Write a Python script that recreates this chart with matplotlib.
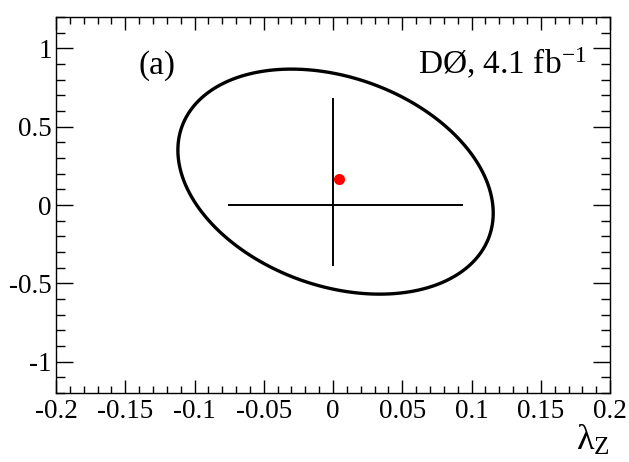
import numpy as np
import matplotlib
matplotlib.use("Agg")
import matplotlib.pyplot as plt
from matplotlib.patches import Polygon
from matplotlib.ticker import MultipleLocator, FuncFormatter

plt.rcParams['font.family'] = ['Liberation Serif', 'DejaVu Serif']
plt.rcParams['mathtext.fontset'] = 'custom'
plt.rcParams['mathtext.rm'] = 'Liberation Serif'
plt.rcParams['mathtext.it'] = 'Liberation Serif:italic'

# 95% C.L. contour in the (lambda_Z, delta kappa_Z) plane
ellipse_center = [0.0018, 0.150]
ellipse_half_width = [0.1138, 0.718]
ellipse_corr = -0.28

# best fit point
best_fit = [0.0043, 0.166]

# one-dimensional limits at the SM point
lambda_limits = [-0.075, 0.093]
kappa_limits = [-0.38, 0.68]

x_range = [-0.2, 0.2]
y_range = [-1.2, 1.2]


def contour_points(center, half, rho, n=400):
    """
    Returns the contour of a correlated 2D ellipse.
    """
    t = np.linspace(0, 2 * np.pi, n, endpoint=False)
    x = center[0] + half[0] * np.cos(t)
    y = center[1] + half[1] * (rho * np.cos(t) + np.sqrt(1 - rho ** 2) * np.sin(t))
    return np.column_stack([x, y])


def tick_fmt(v, pos):
    """
    ROOT style tick labels: no trailing zeros, plain hyphen for minus.
    """
    s = ('%.2f' % v).rstrip('0').rstrip('.')
    if s in ('-0', ''):
        s = '0'
    return s


fig = plt.figure(figsize=(6.29, 4.62), dpi=100)
ax = fig.add_axes([0.089, 0.149, 0.881, 0.814])

pts = contour_points(ellipse_center, ellipse_half_width, ellipse_corr)
ax.add_patch(Polygon(pts, closed=True, fill=False, edgecolor='black',
                     lw=2.4, joinstyle='round'))
ax.plot(lambda_limits, [0, 0], color='black', lw=1.4)
ax.plot([0, 0], kappa_limits, color='black', lw=1.4)
ax.plot(best_fit[0], best_fit[1], 'o', color='#ff0000', ms=8, mec='none')

ax.set_xlim(x_range)
ax.set_ylim(y_range)

ax.xaxis.set_major_locator(MultipleLocator(0.05))
ax.xaxis.set_minor_locator(MultipleLocator(0.01))
ax.yaxis.set_major_locator(MultipleLocator(0.5))
ax.yaxis.set_minor_locator(MultipleLocator(0.1))
ax.xaxis.set_major_formatter(FuncFormatter(tick_fmt))
ax.yaxis.set_major_formatter(FuncFormatter(tick_fmt))

ax.tick_params(which='both', direction='in', top=True, right=True,
               labelsize=19.5, width=1.0)
ax.tick_params(axis='x', which='major', length=9.5, pad=4)
ax.tick_params(axis='x', which='minor', length=4.7)
ax.tick_params(axis='y', which='major', length=12, pad=3)
ax.tick_params(axis='y', which='minor', length=6.2)
for sp in ax.spines.values():
    sp.set_linewidth(1.0)

ax.text(0.183, 0.872, '(a)', transform=ax.transAxes, fontsize=24,
        ha='center', va='center')
ax.text(0.957, 0.876, r'DØ, 4.1 fb$^{\mathrm{-1}}$', transform=ax.transAxes,
        fontsize=24, ha='right', va='center')

fig.text(0.943, 0.045, r'$\mathrm{\lambda}_{\mathrm{Z}}$', fontsize=26,
         ha='center', va='center')
fig.text(0.004, 0.963, r'$\Delta\mathrm{\kappa}_{\mathrm{Z}}$', fontsize=25,
         rotation=90, ha='right', va='top')

fig.savefig('out.png', dpi=100)
